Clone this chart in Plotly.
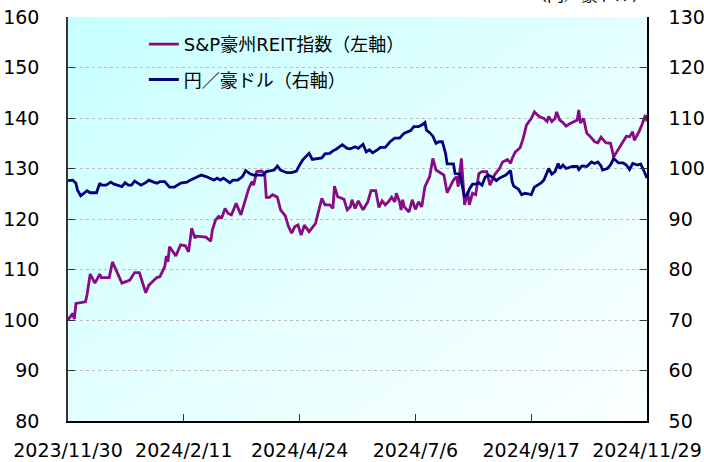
import base64
import plotly.graph_objects as go

# ---------------- data ----------------
reit_dates = ["2023-11-30","2023-12-03","2023-12-04","2023-12-05","2023-12-11","2023-12-12","2023-12-14","2023-12-17","2023-12-20","2023-12-21",
"2023-12-26","2023-12-28","2024-01-03","2024-01-08","2024-01-11","2024-01-14","2024-01-18","2024-01-20","2024-01-23","2024-01-25",
"2024-01-27","2024-01-30","2024-01-31","2024-02-01","2024-02-02","2024-02-06","2024-02-09","2024-02-12","2024-02-14","2024-02-16",
"2024-02-18","2024-02-19","2024-02-25","2024-02-28","2024-02-29","2024-03-02","2024-03-04","2024-03-06","2024-03-08","2024-03-10",
"2024-03-12","2024-03-15","2024-03-18","2024-03-21","2024-03-23","2024-03-25","2024-03-26","2024-03-28","2024-03-31","2024-04-02",
"2024-04-03","2024-04-05","2024-04-07","2024-04-10","2024-04-12","2024-04-15","2024-04-17","2024-04-19","2024-04-21","2024-04-23",
"2024-04-25","2024-04-27","2024-04-30","2024-05-04","2024-05-06","2024-05-08","2024-05-10","2024-05-13","2024-05-15","2024-05-16",
"2024-05-18","2024-05-22","2024-05-24","2024-05-26","2024-05-27","2024-05-29","2024-05-31","2024-06-03","2024-06-06","2024-06-08",
"2024-06-11","2024-06-13","2024-06-15","2024-06-17","2024-06-19","2024-06-21","2024-06-23","2024-06-24","2024-06-26","2024-06-27",
"2024-06-28","2024-06-29","2024-07-02","2024-07-04","2024-07-06","2024-07-08","2024-07-10","2024-07-12","2024-07-15","2024-07-17",
"2024-07-19","2024-07-22","2024-07-24","2024-07-26","2024-07-28","2024-07-30","2024-08-01","2024-08-02","2024-08-04","2024-08-06",
"2024-08-08","2024-08-09","2024-08-11","2024-08-13","2024-08-15","2024-08-17","2024-08-20","2024-08-22","2024-08-25","2024-08-28",
"2024-08-30","2024-09-02","2024-09-04","2024-09-05","2024-09-07","2024-09-10","2024-09-12","2024-09-14","2024-09-17","2024-09-19",
"2024-09-22","2024-09-25","2024-09-27","2024-09-28","2024-09-30","2024-10-02","2024-10-03","2024-10-05","2024-10-07","2024-10-09",
"2024-10-11","2024-10-14","2024-10-16","2024-10-17","2024-10-18","2024-10-20","2024-10-22","2024-10-24","2024-10-27","2024-10-29",
"2024-10-31","2024-11-03","2024-11-06","2024-11-08","2024-11-10","2024-11-12","2024-11-14","2024-11-16","2024-11-18","2024-11-20",
"2024-11-21","2024-11-24","2024-11-26","2024-11-28","2024-11-29"]

reit_values = [100.0,101.3,100.2,103.3,103.6,105.0,109.1,107.3,109.1,108.4,
108.4,111.5,107.3,107.9,109.4,109.4,105.4,106.9,107.8,108.4,
108.6,110.6,112.7,111.5,114.5,112.7,114.9,114.7,113.5,118.2,
116.2,116.6,116.4,115.6,117.8,119.8,120.5,120.3,122.1,121.1,
120.8,123.1,120.8,124.1,126.1,127.4,126.7,129.4,129.5,129.0,
124.3,124.3,124.8,124.3,121.8,120.6,118.5,117.2,118.5,118.8,
116.8,118.8,117.5,119.1,121.8,124.1,122.8,122.8,122.1,126.5,
124.4,123.9,121.8,122.4,123.8,122.1,123.6,121.8,123.4,125.6,
125.6,122.3,123.6,122.8,123.4,124.3,123.4,125.1,123.4,121.8,
123.8,122.4,121.4,123.8,121.9,123.4,122.4,126.4,128.4,132.0,
129.7,129.0,128.7,125.2,126.4,127.7,128.4,126.4,132.0,122.8,
125.4,122.8,125.1,124.8,129.0,129.4,129.4,126.7,128.8,130.0,
131.3,131.8,131.0,132.0,133.3,134.1,136.0,138.6,139.9,141.2,
140.3,139.9,139.3,140.3,139.3,139.9,141.2,139.6,139.1,138.4,
138.8,139.3,139.6,141.6,139.0,139.9,137.0,136.4,135.3,135.1,
136.2,135.1,135.0,132.3,133.3,134.3,135.3,136.4,136.3,137.3,
135.6,137.3,138.8,140.6,139.3]

jpyaud_dates = ["2023-11-30","2023-12-03","2023-12-05","2023-12-06","2023-12-08","2023-12-10","2023-12-12","2023-12-14","2023-12-18","2023-12-20",
"2023-12-21","2023-12-24","2023-12-27","2023-12-29","2024-01-03","2024-01-05","2024-01-07","2024-01-09","2024-01-11","2024-01-13",
"2024-01-15","2024-01-18","2024-01-20","2024-01-23","2024-01-25","2024-01-27","2024-01-30","2024-02-02","2024-02-05","2024-02-09",
"2024-02-13","2024-02-15","2024-02-17","2024-02-20","2024-02-22","2024-02-25","2024-02-27","2024-03-01","2024-03-03","2024-03-05",
"2024-03-07","2024-03-09","2024-03-11","2024-03-13","2024-03-16","2024-03-19","2024-03-21","2024-03-24","2024-03-26","2024-03-29",
"2024-04-01","2024-04-03","2024-04-06","2024-04-08","2024-04-10","2024-04-12","2024-04-14","2024-04-16","2024-04-19","2024-04-22",
"2024-04-24","2024-04-26","2024-04-29","2024-04-30","2024-05-02","2024-05-05","2024-05-08","2024-05-10","2024-05-13","2024-05-15",
"2024-05-17","2024-05-19","2024-05-21","2024-05-24","2024-05-26","2024-05-29","2024-05-31","2024-06-03","2024-06-05","2024-06-07",
"2024-06-09","2024-06-12","2024-06-14","2024-06-17","2024-06-20","2024-06-23","2024-06-26","2024-06-29","2024-07-03","2024-07-05",
"2024-07-08","2024-07-10","2024-07-12","2024-07-13","2024-07-15","2024-07-17","2024-07-19","2024-07-21","2024-07-23","2024-07-25",
"2024-07-26","2024-07-30","2024-07-31","2024-08-03","2024-08-05","2024-08-06","2024-08-08","2024-08-09","2024-08-11","2024-08-13",
"2024-08-15","2024-08-17","2024-08-19","2024-08-21","2024-08-24","2024-08-26","2024-08-28","2024-09-01","2024-09-04","2024-09-05",
"2024-09-06","2024-09-09","2024-09-11","2024-09-13","2024-09-15","2024-09-17","2024-09-19","2024-09-23","2024-09-25","2024-09-28",
"2024-09-30","2024-10-02","2024-10-04","2024-10-05","2024-10-07","2024-10-09","2024-10-13","2024-10-16","2024-10-17","2024-10-19",
"2024-10-22","2024-10-25","2024-10-27","2024-10-29","2024-10-31","2024-11-01","2024-11-04","2024-11-06","2024-11-08","2024-11-11",
"2024-11-14","2024-11-16","2024-11-18","2024-11-20","2024-11-23","2024-11-25","2024-11-27","2024-11-29"]

jpyaud_values = [97.6,97.7,97.1,95.7,94.6,95.1,95.6,95.2,95.2,97.1,
96.7,96.7,97.3,96.9,96.4,97.2,96.7,96.7,97.5,97.1,
96.7,97.2,97.7,97.3,97.1,97.4,97.4,96.3,96.3,97.1,
97.3,97.7,98.0,98.3,98.7,98.4,98.1,97.7,98.1,97.7,
98.1,97.6,97.2,97.7,97.7,98.4,99.6,98.9,98.7,98.7,
98.7,99.4,99.6,99.7,100.5,99.7,99.4,99.2,99.2,99.5,
100.7,101.7,102.7,103.0,101.8,102.0,102.1,102.9,103.0,103.5,
103.8,104.3,104.7,104.0,103.9,104.3,104.0,104.8,103.3,103.7,
103.1,103.7,104.2,104.2,105.3,106.0,106.0,107.0,107.5,108.3,
108.3,108.6,109.1,107.6,107.1,106.4,105.0,105.3,105.3,103.0,
100.9,100.9,99.0,98.9,96.1,94.3,95.1,95.9,96.9,96.9,
97.2,96.7,98.3,98.7,98.2,97.6,98.1,98.7,99.6,97.4,
96.5,95.9,94.8,95.1,95.0,94.8,96.3,97.1,97.7,100.0,
98.9,99.4,101.0,100.0,100.7,100.0,100.4,100.4,99.8,100.5,
100.4,101.3,101.0,101.3,100.5,99.7,100.0,100.7,102.0,101.1,
101.1,100.7,99.8,101.0,100.7,100.9,99.6,98.1]

assert len(reit_dates) == len(reit_values), (len(reit_dates), len(reit_values))
assert len(jpyaud_dates) == len(jpyaud_values), (len(jpyaud_dates), len(jpyaud_values))

x_tick_dates = ["2023-11-30", "2024-02-11", "2024-04-24", "2024-07-06", "2024-09-17", "2024-11-29"]
x_tick_labels = ["2023/11/30", "2024/2/11", "2024/4/24", "2024/7/6", "2024/9/17", "2024/11/29"]

reit_name = "S&P豪州REIT指数（左軸）"
fx_name = "円／豪ドル（右軸）"
right_unit = "（円／豪ドル）"

# ---------------- figure ----------------
FONT = "DejaVu Sans, Noto Sans CJK JP, sans-serif"

fig = go.Figure()
fig.add_trace(go.Scatter(x=reit_dates, y=reit_values, mode="lines", name=reit_name,
                         line=dict(color="#880a88", width=2.8), legendgroup="a", yaxis="y"))
fig.add_trace(go.Scatter(x=jpyaud_dates, y=jpyaud_values, mode="lines", name=fx_name,
                         line=dict(color="#000080", width=2.8), legendgroup="b", yaxis="y2"))

svg = ("<svg xmlns='http://www.w3.org/2000/svg' width='100' height='100' preserveAspectRatio='none'>"
       "<defs><linearGradient id='g' x1='0' y1='0' x2='1' y2='1'>"
       "<stop offset='0' stop-color='#c6ffff'/><stop offset='0.5' stop-color='#e4ffff'/>"
       "<stop offset='1' stop-color='#fbffff'/></linearGradient></defs>"
       "<rect width='100' height='100' fill='url(#g)'/></svg>")
bg_src = "data:image/svg+xml;base64," + base64.b64encode(svg.encode()).decode()

fig.update_layout(
    width=704, height=462,
    margin=dict(l=68, r=57, t=17, b=41),
    paper_bgcolor="white", plot_bgcolor="rgba(0,0,0,0)",
    font=dict(family=FONT, size=19, color="black"),
    images=[dict(source=bg_src, xref="paper", yref="paper", x=0, y=1, sizex=1, sizey=1,
                 xanchor="left", yanchor="top", sizing="stretch", layer="below")],
    showlegend=True,
    legend=dict(x=0.131, y=0.978, xanchor="left", yanchor="top", bgcolor="rgba(0,0,0,0)",
                font=dict(size=18, family=FONT), tracegroupgap=9, traceorder="grouped"),
    xaxis=dict(type="date", range=["2023-11-30", "2024-11-29"], tickvals=x_tick_dates, ticktext=x_tick_labels,
               showgrid=False, showline=True, linecolor="black", linewidth=1.5, ticks="inside", ticklen=7,
               tickcolor="#333", ticklabelstandoff=11, zeroline=False, automargin=False),
    yaxis=dict(range=[80, 160], dtick=10, showgrid=True, gridcolor="#bdbdbd", griddash="3px,3px", gridwidth=1,
               showline=True, linecolor="#333", linewidth=1.5, ticks="inside", ticklen=7, tickcolor="#333",
               ticklabelstandoff=23, zeroline=False, automargin=False),
    yaxis2=dict(range=[50, 130], dtick=10, overlaying="y", side="right", showgrid=False,
                showline=True, linecolor="black", linewidth=1.5, ticks="inside", ticklen=7, tickcolor="#333",
                ticklabelstandoff=16, zeroline=False, automargin=False),
    annotations=[dict(text=right_unit, xref="paper", yref="paper", x=0.90, y=1, yshift=10,
                      xanchor="center", yanchor="bottom", showarrow=False, font=dict(size=17, family=FONT))],
)

fig.write_html("out.html", config={"displayModeBar": False},
               post_script="document.body.style.margin='0px';document.body.style.padding='0px';")
